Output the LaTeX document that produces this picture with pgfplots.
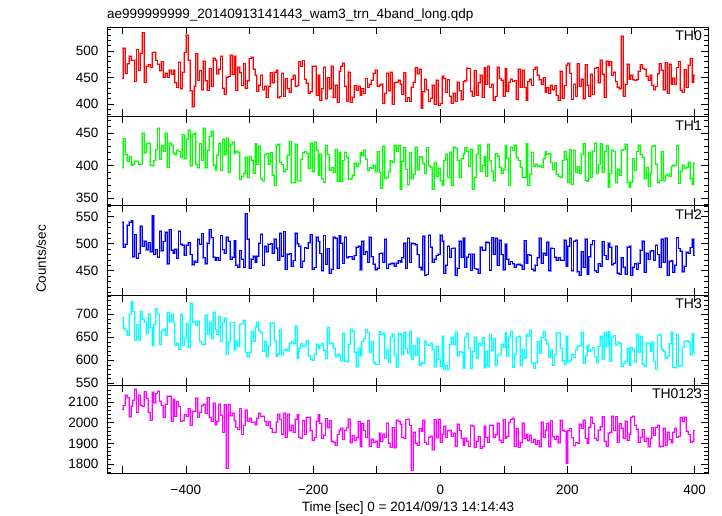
\documentclass[border=0pt]{standalone}
\usepackage{fontspec}
\setmainfont{Liberation Sans}
\usepackage{pgfplots}
\usepackage{pgfplotstable}
\pgfplotsset{compat=1.18}
\newcommand\qf{\fontsize{13.5}{16}\selectfont}
\definecolor{qred}{rgb}{1,0,0}
\definecolor{qgreen}{rgb}{0,1,0}
\definecolor{qblue}{rgb}{0,0,1}
\definecolor{qcyan}{rgb}{0,1,1}
\definecolor{qmag}{rgb}{1,0,1}
\definecolor{pred}{rgb}{1,0.6,0.6}
\definecolor{pgreen}{rgb}{0.6,1,0.6}
\definecolor{pblue}{rgb}{0.55,0.55,1}
\definecolor{pcyan}{rgb}{0.6,1,1}
\definecolor{pmag}{rgb}{1,0.6,1}
\pgfplotstableread{
t a b c d e
-500 449 397 540 693 2068
-497 505 442 494 670 2084
-494 458 417 499 665 2134
-491 476 407 534 654 2122
-488 490 414 540 701 2030
-485 482 401 543 728 2081
-482 483 403 476 706 2111
-479 443 407 517 644 2164
-476 503 407 473 678 2052
-473 464 402 483 643 2134
-470 496 403 532 706 2086
-467 535 450 495 689 2080
-464 441 420 505 683 2152
-461 472 434 489 659 2118
-458 474 435 502 701 2052
-455 470 401 485 671 2013
-452 497 400 552 633 2150
-449 498 408 480 679 2098
-446 482 425 489 712 2143
-443 475 458 475 701 2154
-440 463 410 523 635 2105
-437 480 431 487 665 2084
-434 451 423 504 668 2027
-431 458 450 521 654 2090
-428 451 398 463 704 2129
-425 464 435 526 684 2131
-422 456 432 488 701 2008
-419 464 420 482 682 2116
-416 440 417 490 633 2032
-413 432 424 473 638 2103
-410 479 422 523 625 2079
-407 429 413 499 700 2006
-404 460 448 497 633 2010
-401 497 411 479 647 2040
-398 530 441 497 680 2034
-395 483 455 502 628 2070
-392 425 400 480 725 1988
-389 395 448 461 682 2058
-386 434 450 468 684 2056
-383 495 402 466 677 2121
-380 445 397 509 685 2027
-377 463 434 499 642 2053
-374 427 408 519 635 2083
-371 481 458 474 635 2092
-368 444 397 463 698 2045
-365 426 424 501 657 2122
-362 467 445 526 683 2026
-359 434 453 511 648 2009
-356 487 401 475 705 2095
-353 483 394 469 667 1991
-350 457 416 474 656 2007
-347 466 435 470 695 2092
-344 490 393 515 641 2038
-341 430 441 489 682 1953
-338 418 417 482 692 2089
-335 451 443 512 614 1780
-332 452 390 505 640 2088
-329 492 433 472 682 2035
-326 456 436 475 682 2047
-323 490 419 506 623 2010
-320 426 423 460 642 1977
-317 470 421 457 631 1970
-314 459 379 487 678 2070
-311 435 384 471 680 1943
-308 476 388 457 688 1988
-305 430 413 556 617 2061
-302 444 382 509 608 2007
-299 486 414 455 618 2022
-296 488 409 471 662 2004
-293 466 388 477 641 2003
-290 455 434 466 672 1991
-287 424 402 477 683 2024
-284 436 430 501 665 2048
-281 454 380 518 660 2034
-278 427 377 460 620 2033
-275 434 417 496 642 2006
-272 413 419 485 608 1990
-269 434 403 499 631 2006
-266 459 420 500 682 1972
-263 440 386 483 681 1955
-260 460 370 509 643 1956
-257 464 432 492 609 2005
-254 412 433 469 613 2041
-251 414 406 520 667 2019
-248 458 402 477 612 1944
-245 415 391 522 622 2046
-242 448 395 453 624 1930
-239 429 416 481 621 2041
-236 422 437 482 638 1962
-233 447 374 459 641 1989
-230 455 374 469 636 1955
-227 434 433 520 674 2018
-224 435 377 500 604 2040
-221 480 377 495 627 1932
-218 471 410 457 636 1925
-215 482 420 468 631 2010
-212 447 422 493 633 1944
-209 439 419 491 643 2026
-206 421 396 502 610 2029
-203 423 435 517 602 1962
-200 472 391 453 600 1915
-197 471 436 456 614 1929
-194 417 424 512 635 2008
-191 454 385 504 627 2040
-188 407 418 482 632 2000
-185 429 380 450 636 1924
-182 470 375 515 622 1940
-179 410 431 462 605 2021
-176 450 417 491 671 1976
-173 429 393 446 636 2011
-170 471 397 453 638 1911
-167 413 390 512 626 1907
-164 436 425 510 609 1893
-161 403 376 455 613 1943
-158 462 421 515 610 1965
-155 472 376 501 599 1974
-152 477 408 464 659 1920
-149 434 421 512 598 1965
-146 406 413 474 597 1976
-143 460 379 476 635 2019
-140 404 380 476 668 1903
-137 413 386 472 664 1937
-134 435 404 478 618 1916
-131 426 399 494 586 1928
-128 434 404 495 627 2006
-125 416 420 452 610 1885
-122 429 416 505 642 1996
-119 420 424 480 647 1963
-116 448 410 485 667 1930
-113 431 393 466 660 2011
-110 438 397 512 617 1886
-107 445 396 476 641 1920
-104 458 401 462 596 1905
-101 464 391 452 591 1911
-98 434 422 455 592 1880
-95 436 390 482 662 1949
-92 437 365 483 657 1910
-89 402 430 466 659 1945
-86 421 381 508 604 1932
-83 458 383 455 622 1998
-80 425 391 462 596 1901
-77 460 408 463 651 1880
-74 399 405 464 657 1976
-71 440 432 458 612 1879
-68 441 422 464 585 2014
-65 445 431 469 659 2008
-62 438 364 465 656 1995
-59 419 407 474 613 1932
-56 459 428 501 661 1927
-53 406 395 454 627 2016
-50 412 371 510 616 2017
-47 405 420 466 664 1987
-44 432 380 501 603 1770
-41 441 387 500 632 1954
-38 469 429 498 611 1900
-35 457 394 480 648 1890
-32 466 414 457 589 1972
-29 392 413 452 596 1960
-26 423 404 514 594 2012
-23 447 388 442 642 1904
-20 427 428 443 634 1897
-17 405 400 516 633 1930
-14 411 398 494 637 1935
-11 436 364 466 623 1869
-8 400 405 472 586 2015
-5 445 384 478 631 1928
-2 398 396 481 602 2018
1 401 377 516 587 1905
4 453 370 505 653 1944
7 448 408 446 581 1985
10 422 418 460 589 1930
13 446 383 496 581 1962
16 415 421 475 634 1966
19 401 370 491 650 1935
22 420 429 492 635 1951
25 406 427 442 661 1888
28 441 409 455 610 1995
31 425 382 505 619 1963
34 408 411 475 618 1924
37 442 418 510 582 1891
40 444 428 457 651 1925
43 468 423 475 659 1912
46 467 399 481 626 1885
49 424 426 451 583 1990
52 415 364 481 620 1984
55 463 383 454 650 1880
58 416 418 453 605 1910
61 440 432 445 638 1933
64 454 392 494 632 1878
67 413 401 488 649 1885
70 469 414 488 584 1985
73 438 384 503 620 1932
76 472 433 502 586 1905
79 431 408 451 656 1988
82 437 392 511 621 1990
85 407 377 481 648 1929
88 414 419 510 589 1942
91 470 415 460 611 1998
94 448 398 507 614 1917
97 445 388 480 635 1906
100 414 395 452 629 2016
103 467 431 499 660 1926
106 424 412 472 609 1935
109 441 370 462 650 2004
112 447 429 467 664 2017
115 443 424 463 585 2023
118 444 432 456 614 1888
121 409 413 461 650 1971
124 466 408 462 653 1882
127 432 398 460 590 1903
130 464 382 453 623 2000
133 431 383 506 605 1925
136 407 434 464 656 1946
139 442 370 480 653 1913
142 447 387 479 666 1940
145 435 421 453 594 1906
148 466 399 450 582 1920
151 470 403 460 595 1895
154 455 399 474 641 1913
157 446 400 510 615 1884
160 438 398 464 651 2003
163 450 411 483 662 1932
166 422 422 478 645 1966
169 431 418 503 636 1999
172 420 419 450 607 1884
175 436 406 492 622 2010
178 427 394 491 589 1933
181 435 405 475 613 1921
184 416 387 470 659 1936
187 407 384 474 660 1903
190 462 383 470 626 2013
193 411 408 469 599 1965
196 435 422 507 592 1961
199 473 410 459 653 1805
202 477 374 496 597 1962
205 458 425 510 600 1971
208 409 372 450 613 1928
211 437 424 505 606 1889
214 414 390 507 623 1904
217 476 399 448 631 1900
220 434 389 441 632 1993
223 447 418 485 661 1974
226 410 434 456 593 2014
229 474 378 509 610 1924
232 436 376 444 633 1902
235 414 421 476 620 1978
238 456 382 498 623 2028
241 418 423 506 628 1998
244 468 435 450 608 1926
247 469 388 447 595 1914
250 440 402 463 630 1964
253 483 434 459 653 1981
256 456 390 504 602 2030
259 413 423 478 660 1910
262 481 431 471 631 1886
265 473 367 501 662 1951
268 480 388 494 598 1954
271 454 424 461 650 2034
274 460 422 464 654 1963
277 442 374 495 634 2031
280 432 395 446 639 1907
283 429 386 443 638 1996
286 528 424 474 587 1974
289 415 426 457 593 1926
292 438 433 443 597 2008
295 475 374 494 627 1915
298 447 367 495 590 1944
301 455 375 441 628 2028
304 446 411 457 623 2032
307 445 393 463 597 1989
310 446 422 453 657 1969
313 462 432 464 618 1907
316 474 417 488 652 1931
319 467 413 505 592 1967
322 466 380 447 588 1911
325 453 397 483 637 1926
328 445 369 472 638 1884
331 454 389 486 620 1925
334 436 430 487 640 1976
337 427 431 470 598 1938
340 433 403 497 580 1980
343 457 374 480 654 1988
346 476 378 457 656 1884
349 464 422 508 624 1887
352 427 377 465 619 1975
355 478 385 510 605 1890
358 420 387 441 609 1956
361 475 384 468 636 1918
364 437 399 469 661 1903
367 449 401 447 585 1954
370 438 400 460 584 1974
373 469 431 511 656 1932
376 480 373 491 588 1935
379 426 392 486 589 2026
382 422 401 448 628 2006
385 465 396 459 641 2029
388 432 398 484 643 1960
391 473 406 482 640 1943
394 486 380 493 612 1907
397 441 372 508 658 1911
400 455 404 478 617 1962
}\lc
\pgfplotsset{
  qdp/.style={
    scale only axis, width=601pt, anchor=south west,
    xmin=-524, xmax=421,
    xtick={-500,-400,...,400},
    xticklabels=\empty,
    minor x tick num=0,
    minor y tick num=4,
    tick pos=both,
    tick align=inside,
    major tick length=7pt, minor tick length=4pt,
    tick style={black, line width=0.7pt},
    axis line style={black, line width=0.9pt},
    yticklabel style={font=\qf, /pgf/number format/1000 sep={}, /pgf/number format/assume math mode=true, xshift=-5pt},
    clip=true,
  },
}
\newcommand\thlabel[1]{\node[anchor=north east, inner sep=0pt, font=\fontsize{14}{16}\selectfont, xshift=-6pt, yshift=-4pt] at (rel axis cs:1,1) {#1};}
\begin{document}
\begin{tikzpicture}
\useasboundingbox (0pt,0pt) rectangle (722pt,516pt);
% TH0
\begin{axis}[qdp, at={(107pt,399.5pt)}, height=89.5pt, ymin=376.4, ymax=545.3, ytick={350,400,...,550}]
\addplot[pred, line width=1.8pt, const plot mark mid, mark=none, forget plot] table[x=t,y=a]{\lc};
\addplot[qred, line width=0.6pt, const plot mark mid, mark=none] table[x=t,y=a]{\lc};
\thlabel{TH0}
\end{axis}
% TH1
\begin{axis}[qdp, at={(107pt,310.5pt)}, height=89pt, ymin=338.9, ymax=475.8, ytick={300,350,...,500}]
\addplot[pgreen, line width=1.8pt, const plot mark mid, mark=none, forget plot] table[x=t,y=b]{\lc};
\addplot[qgreen, line width=0.6pt, const plot mark mid, mark=none] table[x=t,y=b]{\lc};
\thlabel{TH1}
\end{axis}
% TH2
\begin{axis}[qdp, at={(107pt,221pt)}, height=89.5pt, ymin=405, ymax=570.7, ytick={400,450,...,600}]
\addplot[pblue, line width=1.8pt, const plot mark mid, mark=none, forget plot] table[x=t,y=c]{\lc};
\addplot[qblue, line width=0.6pt, const plot mark mid, mark=none] table[x=t,y=c]{\lc};
\thlabel{TH2}
\end{axis}
% TH3
\begin{axis}[qdp, at={(107pt,131pt)}, height=90pt, ymin=546.3, ymax=742, ytick={500,550,...,750}]
\addplot[pcyan, line width=1.8pt, const plot mark mid, mark=none, forget plot] table[x=t,y=d]{\lc};
\addplot[qcyan, line width=0.6pt, const plot mark mid, mark=none] table[x=t,y=d]{\lc};
\thlabel{TH3}
\end{axis}
% TH0123
\begin{axis}[qdp, at={(107pt,43pt)}, height=88pt, ymin=1756, ymax=2184, ytick={1700,1800,...,2200},
  xticklabels={,−400,,−200,,0,,200,,400},
  xticklabel style={font=\qf, yshift=-9pt}]
\addplot[pmag, line width=1.8pt, const plot mark mid, mark=none, forget plot] table[x=t,y=e]{\lc};
\addplot[qmag, line width=0.6pt, const plot mark mid, mark=none] table[x=t,y=e]{\lc};
\thlabel{TH0123}
\end{axis}
\node[anchor=base west, inner sep=0pt, font=\qf] at (107pt,497pt) {ae999999999\_20140913141443\_wam3\_trn\_4band\_long.qdp};
\node[rotate=90, inner sep=0pt, font=\qf] at (41pt,257pt) {Counts/sec};
\node[anchor=base, inner sep=0pt, font=\qf] at (408pt,4pt) {Time [sec] 0 = 2014/09/13 14:14:43};
\end{tikzpicture}
\end{document}
